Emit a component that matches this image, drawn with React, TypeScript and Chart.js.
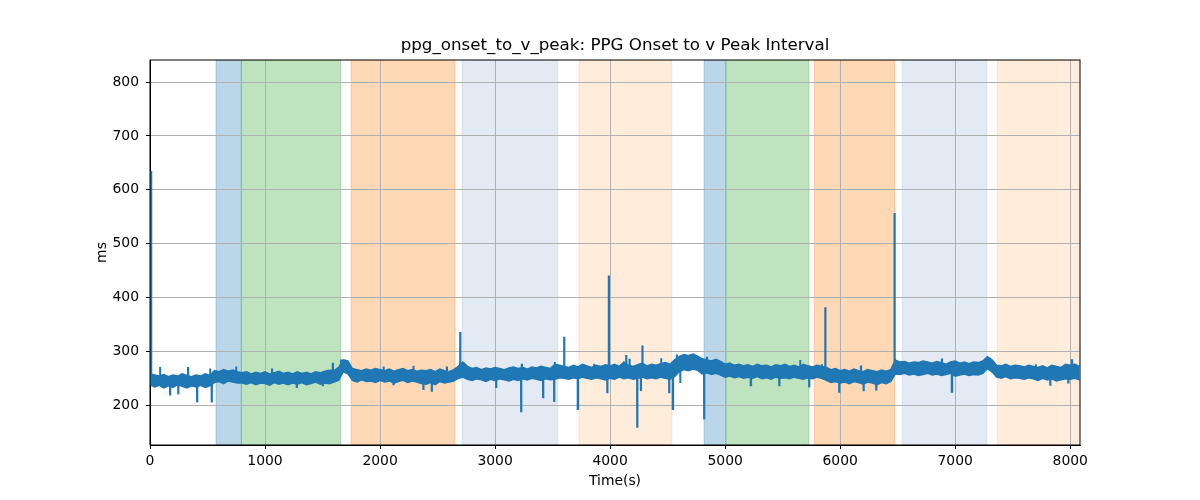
import { useEffect, useRef } from 'react';
import { Chart, registerables } from 'chart.js';

Chart.register(...registerables);

const TITLE = 'ppg_onset_to_v_peak: PPG Onset to v Peak Interval';
const X_LABEL = 'Time(s)';
const Y_LABEL = 'ms';

// the trace is a dense noisy band: lower and upper edge read every BAND_STEP seconds
const BAND_STEP = 40;
const bandLow: number[] = [
  238, 234, 237, 232, 236, 233, 238, 235, 232, 236,
  234, 237, 233, 236, 242, 244, 240, 245, 243, 241,
  241, 239, 242, 238, 241, 240, 237, 242, 239, 241,
  238, 241, 239, 242, 238, 240, 243, 239, 241, 240,
  243, 246, 262, 258, 246, 243, 247, 244, 245, 242,
  246, 243, 245, 241, 244, 246, 242, 245, 243, 240,
  239, 242, 238, 244, 241, 243, 245, 250, 252, 248,
  246, 249, 247, 244, 248, 246, 249, 247, 245, 248,
  246, 249, 247, 250, 248, 246, 249, 247, 248, 251,
  250, 248, 251, 249, 252, 250, 248, 251, 249, 247,
  250, 248, 252, 249, 251, 248, 250, 252, 249, 251,
  249, 252, 250, 248, 253, 262, 266, 264, 267, 265,
  258, 260, 257, 259, 256, 252, 254, 251, 253, 250,
  252, 250, 253, 249, 251, 248, 252, 250, 251, 249,
  252, 250, 248, 251, 249, 252, 250, 246, 242, 244,
  241, 243, 240, 244, 242, 239, 243, 241, 238, 242,
  240, 244, 258, 257, 259, 256, 258, 255, 257, 259,
  256, 258, 255, 257, 259, 254, 256, 258, 255, 257,
  256, 259, 268, 262, 252, 250, 253, 249, 251, 250,
  248, 251, 249, 246, 250, 247, 249, 245, 247, 249,
  248, 250, 247,
];
const bandHigh: number[] = [
  258, 256, 254, 257, 253, 256, 254, 258, 255, 253,
  256, 254, 258, 255, 264, 262, 266, 263, 265, 262,
  260, 262, 258, 261, 259, 262, 258, 260, 263, 259,
  261, 258, 262, 259, 261, 258, 262, 260, 263, 265,
  264, 270, 284, 282, 268, 266, 264, 267, 265, 268,
  266, 264, 267, 263, 266, 268, 264, 266, 263, 265,
  264, 266, 262, 267, 264, 262, 266, 272, 280, 272,
  268, 270, 266, 269, 267, 270, 268, 266, 269, 271,
  268, 270, 267, 271, 269, 272, 270, 268, 276, 274,
  272, 270, 274, 271, 276, 273, 270, 274, 272, 275,
  273, 276, 272, 280, 274, 272, 275, 278, 273, 276,
  274, 277, 279, 276, 284, 290, 294, 292, 295, 291,
  286, 284, 282, 285, 281, 276, 278, 274, 276, 273,
  275, 272, 276, 273, 274, 271, 275, 273, 276, 272,
  274, 271, 276, 273, 271, 274, 272, 270, 266, 268,
  264, 266, 263, 267, 264, 262, 266, 264, 262, 265,
  263, 266, 284, 280, 281, 278, 280, 279, 282, 280,
  278, 281, 279, 276, 280, 282, 278, 280, 277, 280,
  279, 282, 290, 284, 274, 273, 276, 272, 274, 273,
  271, 274, 272, 270, 273, 269, 274, 272, 270, 276,
  274, 276, 272,
];

// isolated spikes and dips leaving the band
const eventTimes = [
  8, 174, 245, 409, 536, 1275, 1501, 2116, 2376, 2449, 2696, 3009, 3226,
  3417, 3513, 3600, 3719, 3975, 3988, 4139, 4168, 4235, 4280, 4513, 4545,
  4817, 5223, 5470, 5730, 5870, 5991, 6203, 6313, 6472, 6971, 7826, 7983, 8014,
];
const eventValues = [
  633, 218, 220, 205, 205, 232, 235, 237, 228, 225, 336, 232, 187,
  213, 206, 327, 193, 222, 441, 293, 286, 158, 311, 222, 193,
  174, 237, 235, 233, 382, 223, 226, 227, 557, 225, 236, 240, 283,
];

// small bumps on the band edges
const bumpTimes = [
  87, 330, 522, 748, 1060, 1589, 1660, 2030, 2290, 2580, 3232, 3518, 3860,
  4267, 4443, 4580, 4609, 4722, 4841, 5100, 5652, 5840, 6180, 6884, 7287, 7700,
];
const bumpValues = [
  271, 269, 268, 272, 266, 277, 283, 272, 273, 270, 275, 280, 277,
  228, 287, 292, 241, 294, 288, 276, 284, 276, 272, 285, 288, 276,
];

// shaded intervals
const spanStarts = [574, 794, 1748, 2713, 3730, 4817, 5006, 5774, 6539, 7365];
const spanEnds = [794, 1658, 2652, 3545, 4536, 5006, 5728, 6475, 7275, 8100];
const spanColors = [
  'rgba(31,119,180,0.3)',
  'rgba(44,160,44,0.3)',
  'rgba(255,127,14,0.3)',
  'rgba(176,196,222,0.35)',
  'rgba(255,127,14,0.15)',
  'rgba(31,119,180,0.3)',
  'rgba(44,160,44,0.3)',
  'rgba(255,127,14,0.3)',
  'rgba(176,196,222,0.35)',
  'rgba(255,127,14,0.15)',
];

const xTicks = [0, 1000, 2000, 3000, 4000, 5000, 6000, 7000, 8000];
const yTicks = [200, 300, 400, 500, 600, 700, 800];

const X_MIN = 0;
const X_MAX = 8085;
const Y_MIN = 126;
const Y_MAX = 841;

const FONT = 'DejaVu Sans';
const LINE_COLOR = '#1f77b4';

const spansPlugin = {
  id: 'spans',
  beforeDraw(chart: Chart) {
    const { ctx, chartArea } = chart;
    const x = chart.scales.x;
    ctx.save();
    ctx.beginPath();
    ctx.rect(chartArea.left, chartArea.top, chartArea.right - chartArea.left, chartArea.bottom - chartArea.top);
    ctx.clip();
    spanStarts.forEach((s, i) => {
      const x0 = x.getPixelForValue(s);
      const x1 = x.getPixelForValue(spanEnds[i]);
      ctx.fillStyle = spanColors[i];
      ctx.fillRect(x0, chartArea.top, x1 - x0, chartArea.bottom - chartArea.top);
      ctx.strokeStyle = spanColors[i];
      ctx.lineWidth = 1;
      ctx.strokeRect(x0, chartArea.top, x1 - x0, chartArea.bottom - chartArea.top);
    });
    ctx.restore();
  },
  afterDraw(chart: Chart) {
    const { ctx, chartArea } = chart;
    ctx.save();
    ctx.strokeStyle = '#000';
    ctx.lineWidth = 1;
    ctx.strokeRect(chartArea.left, chartArea.top, chartArea.right - chartArea.left, chartArea.bottom - chartArea.top);
    ctx.fillStyle = '#000';
    ctx.font = `16.7px "${FONT}"`;
    ctx.textAlign = 'center';
    ctx.textBaseline = 'middle';
    ctx.fillText(TITLE, (chartArea.left + chartArea.right) / 2, 46);
    ctx.restore();
  },
};

export default function App() {
  const canvasRef = useRef<HTMLCanvasElement>(null);
  const chartRef = useRef<Chart | null>(null);

  useEffect(() => {
    if (!canvasRef.current) return;

    const lowPts = bandLow.map((v, i) => ({ x: i * BAND_STEP, y: v }));
    const highPts = bandHigh.map((v, i) => ({ x: i * BAND_STEP, y: v }));

    // each spike is a thin vertical stroke out of the middle of the band
    const strokes = (times: number[], values: number[]) => {
      const pts: { x: number; y: number | null }[] = [];
      times.forEach((t, i) => {
        const k = Math.min(bandLow.length - 1, Math.round(t / BAND_STEP));
        const mid = (bandLow[k] + bandHigh[k]) / 2;
        pts.push({ x: t, y: mid }, { x: t, y: values[i] }, { x: t + 2, y: values[i] }, { x: t + 2, y: mid }, { x: t + 2, y: null });
      });
      return pts;
    };

    if (chartRef.current) chartRef.current.destroy();

    chartRef.current = new Chart(canvasRef.current, {
      type: 'line',
      data: {
        datasets: [
          {
            label: 'low',
            data: lowPts,
            borderColor: LINE_COLOR,
            borderWidth: 1.5,
            pointRadius: 0,
            fill: false,
          },
          {
            label: 'high',
            data: highPts,
            borderColor: LINE_COLOR,
            backgroundColor: LINE_COLOR,
            borderWidth: 1.5,
            pointRadius: 0,
            fill: '-1',
          },
          {
            label: 'spikes',
            data: strokes(eventTimes, eventValues),
            borderColor: LINE_COLOR,
            borderWidth: 2.2,
            pointRadius: 0,
            spanGaps: false,
            fill: false,
          },
          {
            label: 'bumps',
            data: strokes(bumpTimes, bumpValues),
            borderColor: LINE_COLOR,
            borderWidth: 2,
            pointRadius: 0,
            spanGaps: false,
            fill: false,
          },
        ],
      },
      options: {
        responsive: false,
        animation: false,
        layout: { padding: { left: 80, right: 120, top: 60, bottom: 0 } },
        plugins: {
          legend: { display: false },
          title: { display: false },
          tooltip: { enabled: false },
        },
        scales: {
          x: {
            type: 'linear',
            min: X_MIN,
            max: X_MAX,
            afterBuildTicks: (s) => {
              s.ticks = xTicks.map((v) => ({ value: v }));
            },
            afterFit: (s) => {
              s.height = 55;
            },
            grid: { color: '#b0b0b0', lineWidth: 1, tickColor: '#000', tickLength: 4 },
            border: { color: '#000', width: 1 },
            ticks: {
              color: '#000',
              padding: 4,
              maxRotation: 0,
              font: { family: FONT, size: 13.9 },
              callback: (v) => String(v),
            },
            title: {
              display: true,
              text: X_LABEL,
              color: '#000',
              font: { family: FONT, size: 13.9 },
              padding: { top: 0, bottom: 10 },
            },
          },
          y: {
            type: 'linear',
            min: Y_MIN,
            max: Y_MAX,
            afterBuildTicks: (s) => {
              s.ticks = yTicks.map((v) => ({ value: v }));
            },
            afterFit: (s) => {
              s.width = 70;
            },
            grid: { color: '#b0b0b0', lineWidth: 1, tickColor: '#000', tickLength: 4 },
            border: { color: '#000', width: 1 },
            ticks: {
              color: '#000',
              padding: 7,
              font: { family: FONT, size: 13.9 },
              callback: (v) => String(v),
            },
            title: {
              display: true,
              text: Y_LABEL,
              color: '#000',
              font: { family: FONT, size: 13.9 },
              padding: { top: 14, bottom: 0 },
            },
          },
        },
      },
      plugins: [spansPlugin],
    });

    return () => {
      if (chartRef.current) {
        chartRef.current.destroy();
        chartRef.current = null;
      }
    };
  }, []);

  return (
    <div style={{ position: 'absolute', left: 0, top: 0, width: 1200, height: 500, background: '#fff' }}>
      <canvas ref={canvasRef} width={1200} height={500} />
    </div>
  );
}
